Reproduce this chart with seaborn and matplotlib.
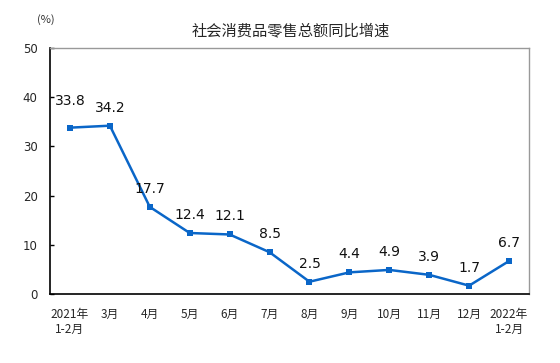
import numpy as np
import pandas as pd
import matplotlib.pyplot as plt
import seaborn as sns

# 社会消费品零售总额同比增速 (%)
months = ["2021年\n1-2月", "3月", "4月", "5月", "6月", "7月", "8月",
          "9月", "10月", "11月", "12月", "2022年\n1-2月"]
growth = [33.8, 34.2, 17.7, 12.4, 12.1, 8.5, 2.5, 4.4, 4.9, 3.9, 1.7, 6.7]

df = pd.DataFrame({"month": months, "growth": growth})
df["pos"] = np.arange(len(df))

sns.set_style("white")
plt.rcParams['font.family'] = ['Noto Sans CJK SC', 'DejaVu Sans']

blue = "#0a66c8"

fig = plt.figure(figsize=(5.6, 3.63), dpi=100)
ax = fig.add_axes([0.0893, 0.19, 0.8553, 0.678])

sns.lineplot(data=df, x="pos", y="growth", ax=ax, color=blue, linewidth=1.8,
             marker="s", markersize=5, markeredgewidth=0)

for i, (x, y) in enumerate(zip(df["pos"], df["growth"])):
    dy = 19 if i == 0 else 13  # first label sits a bit higher in the original
    ax.annotate(f"{y:.1f}", (x, y), xytext=(0, dy), textcoords="offset points",
                ha="center", va="center", fontsize=10, color="#111111",
                family=["DejaVu Sans"])

ax.set_xlim(-0.5, len(df) - 0.5)
ax.set_ylim(0, 50)
ax.set_yticks(range(0, 51, 10))
ax.set_yticklabels([str(v) for v in range(0, 51, 10)], fontsize=8.5, family=["DejaVu Sans"])

# category labels at centers, tick marks at boundaries
ax.set_xticks(df["pos"])
ax.set_xticklabels(df["month"], fontsize=8.5)
ax.tick_params(axis="x", length=0, pad=10)
ax.set_xticks(np.arange(0.5, len(df) - 0.5, 1), minor=True)
ax.tick_params(axis="x", which="minor", direction="in", length=4, width=1, color="black")
ax.tick_params(axis="y", direction="in", length=3, width=1, color="black", left=True, pad=9)

ax.set_xlabel("")
ax.set_ylabel("")
for s in ["left", "bottom"]:
    ax.spines[s].set_color("black")
    ax.spines[s].set_linewidth(1.2)
for s in ["top", "right"]:
    ax.spines[s].set_color("#999999")
    ax.spines[s].set_linewidth(1)

fig.text(0.52, 0.915, "社会消费品零售总额同比增速", ha="center", va="center",
         fontsize=11, fontweight="medium")
fig.text(0.082, 0.945, "(%)", ha="center", va="center", fontsize=8, color="#333333")

fig.savefig("out.png", dpi=100)
